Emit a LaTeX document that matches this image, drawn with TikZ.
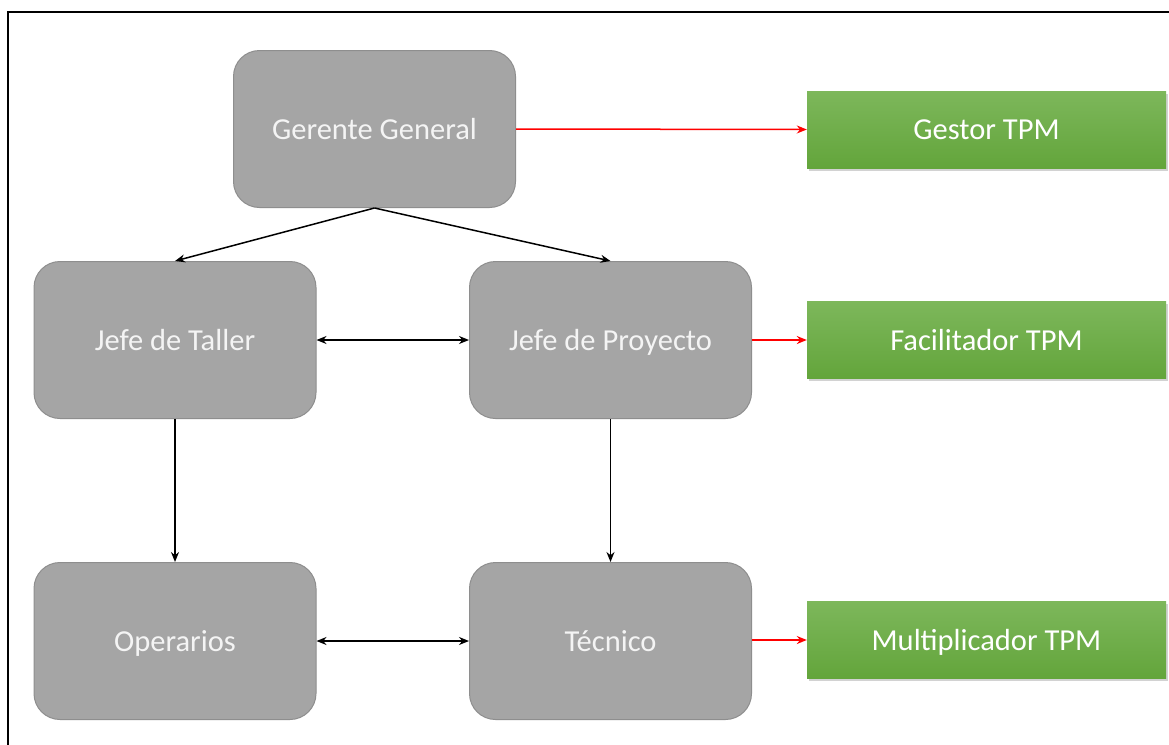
\documentclass[tikz,border=0pt]{standalone}
\usepackage{fontspec}
\setmainfont{Carlito}
\usetikzlibrary{arrows.meta,shadows}
\definecolor{boxgray}{HTML}{A5A5A5}
\definecolor{boxedge}{HTML}{8E8E8E}
\definecolor{greentop}{HTML}{7DB75B}
\definecolor{greenbot}{HTML}{63A53B}
\definecolor{txt}{HTML}{F4F4F4}
\begin{document}
\begin{tikzpicture}[x=1pt,y=-1pt,
  role/.style={draw=boxedge, line width=1pt, fill=boxgray, rounded corners=26pt,
    minimum width=282pt, minimum height=157pt, inner sep=0pt,
    text=txt, font=\fontsize{30.5}{34}\selectfont, text height=21pt, text depth=1pt},
  tpm/.style={top color=greentop, bottom color=greenbot, draw=none,
    minimum width=359pt, minimum height=77pt, inner sep=0pt,
    text=white, font=\fontsize{30.5}{34}\selectfont, text height=21pt, text depth=1pt,
    drop shadow={shadow xshift=1.5pt, shadow yshift=-2.5pt, opacity=0.35}},
  link/.style={line width=1.5pt, -{Stealth[length=10pt,width=8pt]}},
  both/.style={line width=1.5pt, {Stealth[length=10pt,width=8pt]}-{Stealth[length=10pt,width=8pt]}},
  redlink/.style={red, line width=1.5pt, -{Stealth[length=10pt,width=8pt]}}]
\useasboundingbox (0,0) rectangle (1169,744);
\fill[white] (0,0) rectangle (1169,744);
% outer frame (left and top edges inside the page)
\draw[line width=2pt] (8,760) -- (8,12) -- (1180,12);

% staff positions
\node[role] (gg) at (374.5,129) {Gerente General};
\node[role] (jt) at (175,340) {Jefe de Taller};
\node[role] (jp) at (610.5,340) {Jefe de Proyecto};
\node[role] (op) at (175,641) {Operarios};
\node[role] (tc) at (610.5,641) {Técnico};

% TPM roles
\node[tpm] (gt) at (986.5,129.5) {Gestor TPM};
\node[tpm] (ft) at (986.5,340) {Facilitador TPM};
\node[tpm] (mt) at (986.5,640) {Multiplicador TPM};

% hierarchy
\draw[link] (gg.south) -- (jt.north);
\draw[link] (gg.south) -- (jp.north);
\draw[link] (jt.south) -- (op.north);
\draw[link] (jp.south) -- (tc.north);
\draw[both] (jt.east) -- (jp.west);
\draw[both] (op.east) -- (tc.west);

% TPM assignments
\draw[redlink] (gg.east) -- (gt.west);
\draw[redlink] (jp.east) -- (ft.west);
\draw[redlink] (tc.east |- mt.west) -- (mt.west);
\end{tikzpicture}
\end{document}
